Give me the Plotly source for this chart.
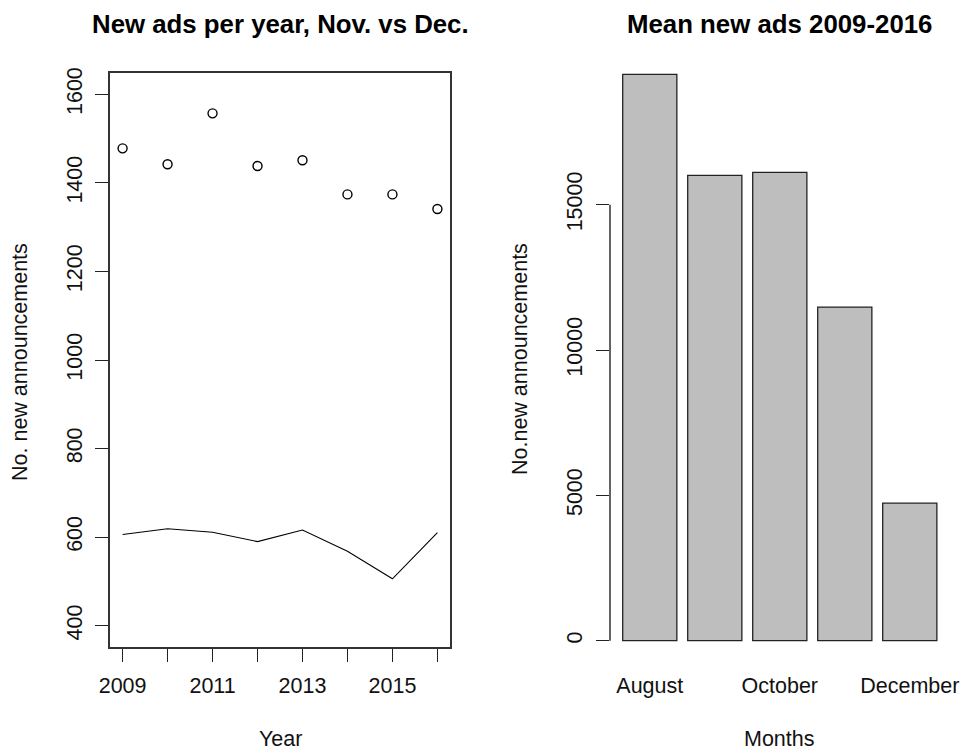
import plotly.graph_objects as go

# ---- data ----
years = [2009, 2010, 2011, 2012, 2013, 2014, 2015, 2016]
nov_ads = [1478, 1442, 1557, 1438, 1451, 1374, 1374, 1341]
dec_ads = [606, 619, 611, 590, 616, 568, 506, 610]
year_ticks = [2009, 2010, 2011, 2012, 2013, 2014, 2015, 2016]
year_labels = ["2009", "", "2011", "", "2013", "", "2015", ""]
left_y_ticks = [400, 600, 800, 1000, 1200, 1400, 1600]

months = ["August", "September", "October", "November", "December"]
mean_ads = [19479, 16005, 16108, 11478, 4733]
month_labels_shown = ["August", "October", "December"]
right_y_ticks = [0, 5000, 10000, 15000]
right_y_labels = ["0", "5000", "10000", "15000"]

W, H = 961, 750
FONT = "Liberation Sans, Arial, sans-serif"
FS = 21.5

def px(x):
    return x / W

def py(y):
    return 1 - y / H

ydom = [py(646.7), py(72.7)]

fig = go.Figure()

fig.add_trace(go.Scatter(
    x=years, y=nov_ads, mode="markers", name="Nov.",
    marker=dict(symbol="circle-open", size=9, color="black", line=dict(width=1.4, color="black")),
    xaxis="x", yaxis="y", showlegend=False))
fig.add_trace(go.Scatter(
    x=years, y=dec_ads, mode="lines", name="Dec.",
    line=dict(color="black", width=1.1),
    xaxis="x", yaxis="y", showlegend=False))

fig.add_trace(go.Bar(
    x=months, y=mean_ads, name="Mean",
    marker=dict(color="#BEBEBE", line=dict(color="#222222", width=1.3)),
    xaxis="x2", yaxis="y2", showlegend=False))

axis_common = dict(showgrid=False, zeroline=False,
                   tickfont=dict(family=FONT, size=FS, color="#111111"))

fig.update_layout(
    width=W, height=H,
    margin=dict(l=0, r=0, t=0, b=0),
    paper_bgcolor="white", plot_bgcolor="white",
    template="none",
    bargap=1 - 1 / 1.2,
    xaxis=dict(domain=[px(110), px(450)], range=[2008.72, 2016.28],
               tickvals=year_ticks, ticktext=year_labels,
               ticks="outside", ticklen=13, tickwidth=1.3, tickcolor="#222222",
               showline=True, linecolor="#333333", linewidth=1.6, mirror=True,
               anchor="y", ticklabelstandoff=6, **axis_common),
    yaxis=dict(domain=ydom, range=[352.6, 1648.8],
               tickvals=left_y_ticks, tickangle=-90,
               ticks="outside", ticklen=13, tickwidth=1.3, tickcolor="#222222",
               showline=True, linecolor="#333333", linewidth=1.6, mirror=True,
               anchor="x", ticklabelstandoff=5, **axis_common),
    xaxis2=dict(domain=[px(610), px(949.5)], range=[-0.612, 4.611],
                type="category", categoryorder="array", categoryarray=months,
                tickvals=month_labels_shown, ticks="", showline=False,
                anchor="y2", ticklabelstandoff=24, **axis_common),
    yaxis2=dict(domain=ydom, range=[-206, 19540],
                tickvals=right_y_ticks, ticktext=right_y_labels, tickangle=-90,
                ticks="outside", ticklen=13, tickwidth=1.3, tickcolor="#222222",
                showline=False, anchor="x2", ticklabelstandoff=5, **axis_common),
)

# y-axis line of the bar panel spans first to last tick (R style)
fig.add_shape(type="line", xref="x2 domain", yref="y2",
              x0=0, x1=0, y0=min(right_y_ticks), y1=max(right_y_ticks),
              line=dict(color="#222222", width=1.4), layer="above")

ann_font = dict(family=FONT, size=FS, color="#111111")
title_font = dict(family=FONT, size=FS * 1.2, color="#000000")
annotations = [
    dict(text="<b>New ads per year, Nov. vs Dec.</b>", x=px(280), y=py(24), font=title_font),
    dict(text="<b>Mean new ads 2009-2016</b>", x=px(779.75), y=py(24), font=title_font),
    dict(text="Year", x=px(280), y=py(739), font=ann_font),
    dict(text="Months", x=px(779.75), y=py(739), font=ann_font),
    dict(text="No. new announcements", x=px(20), y=py(362), textangle=-90, font=ann_font),
    dict(text="No.new announcements", x=px(520), y=py(359), textangle=-90, font=ann_font),
]
for a in annotations:
    fig.add_annotation(xref="paper", yref="paper", showarrow=False,
                       xanchor="center", yanchor="middle", **a)

fig.write_html("out.html")
